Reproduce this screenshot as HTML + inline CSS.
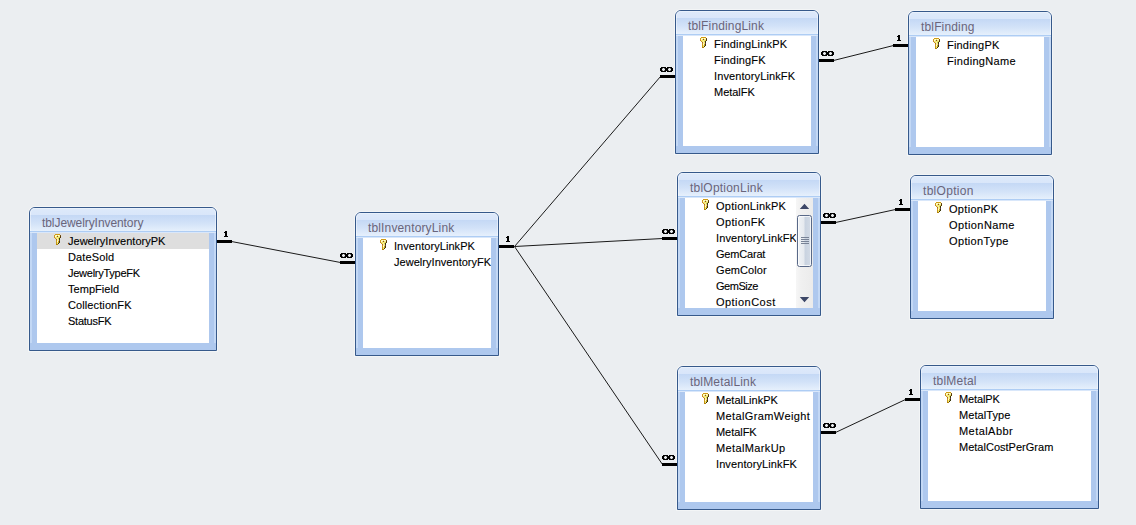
<!DOCTYPE html>
<html><head><meta charset="utf-8"><title>Relationships</title><style>
html,body{margin:0;padding:0}
body{width:1136px;height:525px;overflow:hidden;background:#ebeef1;position:relative;font-family:"Liberation Sans",sans-serif}
.cx{position:absolute;left:0;top:0;z-index:5}
.t{position:absolute;height:144px;box-sizing:border-box;border:1px solid #36598b;border-radius:6px 6px 0 0;
   background:#aec8ee;box-shadow:0 0 0 1px rgba(255,255,255,.4)}
.t:before{content:"";position:absolute;left:0;top:25px;bottom:7px;width:2px;background:#c3d8f5}
.t:after{content:"";position:absolute;right:0;top:25px;bottom:7px;width:2px;background:#c3d8f5}
.h{position:absolute;left:0;right:0;top:0;height:23px;border-radius:5px 5px 0 0;
   background:linear-gradient(#e9f1fc 0,#e9f1fc 1px,#dde9fa 1px,#d9e6fa 7px,#c4d8f5 7px,#d2e2f8 15px,#e6f0fc 23px);
   border-bottom:1px solid #aecdf4;box-shadow:0 1px 0 #d9e7fa,inset 1px 0 0 rgba(255,255,255,.45),inset -1px 0 0 rgba(255,255,255,.45);
   color:#6a657b;font-size:12px;line-height:14px;white-space:nowrap;overflow:hidden}
.h span{position:absolute;left:12px;top:8px}
.l{position:absolute;left:7px;right:7px;top:25px;height:110px;background:#fff;overflow:hidden;z-index:1}
.r{position:relative;height:16px;white-space:nowrap;font-size:11px;line-height:13px;color:#000}
.r.s{background:#dedede}
.r span{position:absolute;left:31px;top:2px;-webkit-text-stroke:.12px #000}
.k{position:absolute;left:17px;top:1px}
.sb{position:absolute;right:0;top:0;width:17px;height:110px;background:linear-gradient(90deg,#f6f6f6,#f0f0f0 30%,#ebebeb);z-index:2}
.sb svg{position:absolute;left:0;top:0}
.th{position:absolute;left:1px;top:17px;width:15px;height:52px;box-sizing:border-box;border:1px solid #596988;border-radius:2.5px;
    background:linear-gradient(90deg,#f0f3f6 0,#e6eaef 45%,#c9d3e0 55%,#d3dbe6 100%);box-shadow:inset 0 0 0 1px rgba(255,255,255,.7)}
.th i{position:absolute;left:3px;width:8px;height:1px;background:#778296}
</style></head>
<body>
<svg width="0" height="0" style="position:absolute"><defs><g id="key" shape-rendering="crispEdges"><rect x="1" y="0" width="1" height="1" fill="#cf9a14"/><rect x="2" y="0" width="1" height="1" fill="#cf9a14"/><rect x="3" y="0" width="1" height="1" fill="#cf9a14"/><rect x="4" y="0" width="1" height="1" fill="#cf9a14"/><rect x="5" y="0" width="1" height="1" fill="#cf9a14"/><rect x="0" y="1" width="1" height="1" fill="#cf9a14"/><rect x="1" y="1" width="1" height="1" fill="#f8f3a4"/><rect x="2" y="1" width="1" height="1" fill="#fffce0"/><rect x="3" y="1" width="1" height="1" fill="#f1e973"/><rect x="4" y="1" width="1" height="1" fill="#fffce0"/><rect x="5" y="1" width="1" height="1" fill="#f8f3a4"/><rect x="6" y="1" width="1" height="1" fill="#7a5010"/><rect x="0" y="2" width="1" height="1" fill="#cf9a14"/><rect x="1" y="2" width="1" height="1" fill="#fffce0"/><rect x="2" y="2" width="1" height="1" fill="#f1e973"/><rect x="3" y="2" width="1" height="1" fill="#8a4a20"/><rect x="4" y="2" width="1" height="1" fill="#f1e973"/><rect x="5" y="2" width="1" height="1" fill="#f8f3a4"/><rect x="6" y="2" width="1" height="1" fill="#55380a"/><rect x="0" y="3" width="1" height="1" fill="#c87838"/><rect x="1" y="3" width="1" height="1" fill="#f1e973"/><rect x="2" y="3" width="1" height="1" fill="#f1e973"/><rect x="3" y="3" width="1" height="1" fill="#f1e973"/><rect x="4" y="3" width="1" height="1" fill="#f1e973"/><rect x="5" y="3" width="1" height="1" fill="#d6c94e"/><rect x="6" y="3" width="1" height="1" fill="#55380a"/><rect x="1" y="4" width="1" height="1" fill="#cf9a14"/><rect x="2" y="4" width="1" height="1" fill="#f1e973"/><rect x="3" y="4" width="1" height="1" fill="#f8f3a4"/><rect x="4" y="4" width="1" height="1" fill="#d6c94e"/><rect x="5" y="4" width="1" height="1" fill="#3a380a"/><rect x="2" y="5" width="1" height="1" fill="#b05a30"/><rect x="3" y="5" width="1" height="1" fill="#f8f3a4"/><rect x="4" y="5" width="1" height="1" fill="#f1e973"/><rect x="5" y="5" width="1" height="1" fill="#3a380a"/><rect x="2" y="6" width="1" height="1" fill="#c59416"/><rect x="3" y="6" width="1" height="1" fill="#f8f3a4"/><rect x="4" y="6" width="1" height="1" fill="#f1e973"/><rect x="5" y="6" width="1" height="1" fill="#6a3050"/><rect x="2" y="7" width="1" height="1" fill="#cf9a14"/><rect x="3" y="7" width="1" height="1" fill="#fffce0"/><rect x="4" y="7" width="1" height="1" fill="#cfa322"/><rect x="5" y="7" width="1" height="1" fill="#3a380a"/><rect x="2" y="8" width="1" height="1" fill="#c59416"/><rect x="3" y="8" width="1" height="1" fill="#f1e973"/><rect x="4" y="8" width="1" height="1" fill="#cfa322"/><rect x="5" y="8" width="1" height="1" fill="#3a380a"/><rect x="2" y="9" width="1" height="1" fill="#c59416"/><rect x="3" y="9" width="1" height="1" fill="#f1e973"/><rect x="4" y="9" width="1" height="1" fill="#3a380a"/><rect x="2" y="10" width="1" height="1" fill="#b08010"/><rect x="3" y="10" width="1" height="1" fill="#b08010"/></g></defs></svg>
<svg class="cx" width="1136" height="525" viewBox="0 0 1136 525"><g stroke="#1a1a1a" stroke-width="1" fill="none" stroke-linecap="butt"><line x1="231.5" y1="241.5" x2="340.5" y2="262.5"/><line x1="514.5" y1="246.5" x2="660.5" y2="76.5"/><line x1="514.5" y1="246.5" x2="662.5" y2="238.5"/><line x1="514.5" y1="246.5" x2="662.5" y2="464.5"/><line x1="833.5" y1="60.5" x2="893.5" y2="45.5"/><line x1="835.5" y1="222.5" x2="895.5" y2="209.5"/><line x1="835.5" y1="432.5" x2="905.5" y2="399.5"/></g><g fill="#000" shape-rendering="crispEdges"><rect x="217" y="240" width="15" height="3"/><rect x="225" y="231" width="2" height="1"/><rect x="224" y="232" width="3" height="1"/><rect x="225" y="233" width="2" height="1"/><rect x="225" y="234" width="2" height="1"/><rect x="225" y="235" width="2" height="1"/><rect x="224" y="236" width="4" height="1"/><rect x="340" y="261" width="15" height="3"/><rect x="341" y="253" width="5" height="1"/><rect x="347" y="253" width="5" height="1"/><rect x="340" y="254" width="2" height="1"/><rect x="342" y="254" width="1" height="1" fill-opacity=".55"/><rect x="344" y="254" width="1" height="1" fill-opacity=".55"/><rect x="345" y="254" width="3" height="1"/><rect x="348" y="254" width="1" height="1" fill-opacity=".55"/><rect x="350" y="254" width="1" height="1" fill-opacity=".55"/><rect x="351" y="254" width="2" height="1"/><rect x="340" y="255" width="2" height="1"/><rect x="345" y="255" width="3" height="1"/><rect x="351" y="255" width="2" height="1"/><rect x="340" y="256" width="2" height="1"/><rect x="342" y="256" width="1" height="1" fill-opacity=".55"/><rect x="344" y="256" width="1" height="1" fill-opacity=".55"/><rect x="345" y="256" width="3" height="1"/><rect x="348" y="256" width="1" height="1" fill-opacity=".55"/><rect x="350" y="256" width="1" height="1" fill-opacity=".55"/><rect x="351" y="256" width="2" height="1"/><rect x="341" y="257" width="5" height="1"/><rect x="347" y="257" width="5" height="1"/><rect x="499" y="245" width="15" height="3"/><rect x="507" y="236" width="2" height="1"/><rect x="506" y="237" width="3" height="1"/><rect x="507" y="238" width="2" height="1"/><rect x="507" y="239" width="2" height="1"/><rect x="507" y="240" width="2" height="1"/><rect x="506" y="241" width="4" height="1"/><rect x="660" y="75" width="15" height="3"/><rect x="661" y="67" width="5" height="1"/><rect x="667" y="67" width="5" height="1"/><rect x="660" y="68" width="2" height="1"/><rect x="662" y="68" width="1" height="1" fill-opacity=".55"/><rect x="664" y="68" width="1" height="1" fill-opacity=".55"/><rect x="665" y="68" width="3" height="1"/><rect x="668" y="68" width="1" height="1" fill-opacity=".55"/><rect x="670" y="68" width="1" height="1" fill-opacity=".55"/><rect x="671" y="68" width="2" height="1"/><rect x="660" y="69" width="2" height="1"/><rect x="665" y="69" width="3" height="1"/><rect x="671" y="69" width="2" height="1"/><rect x="660" y="70" width="2" height="1"/><rect x="662" y="70" width="1" height="1" fill-opacity=".55"/><rect x="664" y="70" width="1" height="1" fill-opacity=".55"/><rect x="665" y="70" width="3" height="1"/><rect x="668" y="70" width="1" height="1" fill-opacity=".55"/><rect x="670" y="70" width="1" height="1" fill-opacity=".55"/><rect x="671" y="70" width="2" height="1"/><rect x="661" y="71" width="5" height="1"/><rect x="667" y="71" width="5" height="1"/><rect x="662" y="237" width="15" height="3"/><rect x="663" y="229" width="5" height="1"/><rect x="669" y="229" width="5" height="1"/><rect x="662" y="230" width="2" height="1"/><rect x="664" y="230" width="1" height="1" fill-opacity=".55"/><rect x="666" y="230" width="1" height="1" fill-opacity=".55"/><rect x="667" y="230" width="3" height="1"/><rect x="670" y="230" width="1" height="1" fill-opacity=".55"/><rect x="672" y="230" width="1" height="1" fill-opacity=".55"/><rect x="673" y="230" width="2" height="1"/><rect x="662" y="231" width="2" height="1"/><rect x="667" y="231" width="3" height="1"/><rect x="673" y="231" width="2" height="1"/><rect x="662" y="232" width="2" height="1"/><rect x="664" y="232" width="1" height="1" fill-opacity=".55"/><rect x="666" y="232" width="1" height="1" fill-opacity=".55"/><rect x="667" y="232" width="3" height="1"/><rect x="670" y="232" width="1" height="1" fill-opacity=".55"/><rect x="672" y="232" width="1" height="1" fill-opacity=".55"/><rect x="673" y="232" width="2" height="1"/><rect x="663" y="233" width="5" height="1"/><rect x="669" y="233" width="5" height="1"/><rect x="662" y="463" width="15" height="3"/><rect x="663" y="455" width="5" height="1"/><rect x="669" y="455" width="5" height="1"/><rect x="662" y="456" width="2" height="1"/><rect x="664" y="456" width="1" height="1" fill-opacity=".55"/><rect x="666" y="456" width="1" height="1" fill-opacity=".55"/><rect x="667" y="456" width="3" height="1"/><rect x="670" y="456" width="1" height="1" fill-opacity=".55"/><rect x="672" y="456" width="1" height="1" fill-opacity=".55"/><rect x="673" y="456" width="2" height="1"/><rect x="662" y="457" width="2" height="1"/><rect x="667" y="457" width="3" height="1"/><rect x="673" y="457" width="2" height="1"/><rect x="662" y="458" width="2" height="1"/><rect x="664" y="458" width="1" height="1" fill-opacity=".55"/><rect x="666" y="458" width="1" height="1" fill-opacity=".55"/><rect x="667" y="458" width="3" height="1"/><rect x="670" y="458" width="1" height="1" fill-opacity=".55"/><rect x="672" y="458" width="1" height="1" fill-opacity=".55"/><rect x="673" y="458" width="2" height="1"/><rect x="663" y="459" width="5" height="1"/><rect x="669" y="459" width="5" height="1"/><rect x="819" y="59" width="15" height="3"/><rect x="822" y="51" width="5" height="1"/><rect x="828" y="51" width="5" height="1"/><rect x="821" y="52" width="2" height="1"/><rect x="823" y="52" width="1" height="1" fill-opacity=".55"/><rect x="825" y="52" width="1" height="1" fill-opacity=".55"/><rect x="826" y="52" width="3" height="1"/><rect x="829" y="52" width="1" height="1" fill-opacity=".55"/><rect x="831" y="52" width="1" height="1" fill-opacity=".55"/><rect x="832" y="52" width="2" height="1"/><rect x="821" y="53" width="2" height="1"/><rect x="826" y="53" width="3" height="1"/><rect x="832" y="53" width="2" height="1"/><rect x="821" y="54" width="2" height="1"/><rect x="823" y="54" width="1" height="1" fill-opacity=".55"/><rect x="825" y="54" width="1" height="1" fill-opacity=".55"/><rect x="826" y="54" width="3" height="1"/><rect x="829" y="54" width="1" height="1" fill-opacity=".55"/><rect x="831" y="54" width="1" height="1" fill-opacity=".55"/><rect x="832" y="54" width="2" height="1"/><rect x="822" y="55" width="5" height="1"/><rect x="828" y="55" width="5" height="1"/><rect x="893" y="44" width="15" height="3"/><rect x="898" y="35" width="2" height="1"/><rect x="897" y="36" width="3" height="1"/><rect x="898" y="37" width="2" height="1"/><rect x="898" y="38" width="2" height="1"/><rect x="898" y="39" width="2" height="1"/><rect x="897" y="40" width="4" height="1"/><rect x="821" y="221" width="15" height="3"/><rect x="824" y="213" width="5" height="1"/><rect x="830" y="213" width="5" height="1"/><rect x="823" y="214" width="2" height="1"/><rect x="825" y="214" width="1" height="1" fill-opacity=".55"/><rect x="827" y="214" width="1" height="1" fill-opacity=".55"/><rect x="828" y="214" width="3" height="1"/><rect x="831" y="214" width="1" height="1" fill-opacity=".55"/><rect x="833" y="214" width="1" height="1" fill-opacity=".55"/><rect x="834" y="214" width="2" height="1"/><rect x="823" y="215" width="2" height="1"/><rect x="828" y="215" width="3" height="1"/><rect x="834" y="215" width="2" height="1"/><rect x="823" y="216" width="2" height="1"/><rect x="825" y="216" width="1" height="1" fill-opacity=".55"/><rect x="827" y="216" width="1" height="1" fill-opacity=".55"/><rect x="828" y="216" width="3" height="1"/><rect x="831" y="216" width="1" height="1" fill-opacity=".55"/><rect x="833" y="216" width="1" height="1" fill-opacity=".55"/><rect x="834" y="216" width="2" height="1"/><rect x="824" y="217" width="5" height="1"/><rect x="830" y="217" width="5" height="1"/><rect x="895" y="208" width="15" height="3"/><rect x="900" y="199" width="2" height="1"/><rect x="899" y="200" width="3" height="1"/><rect x="900" y="201" width="2" height="1"/><rect x="900" y="202" width="2" height="1"/><rect x="900" y="203" width="2" height="1"/><rect x="899" y="204" width="4" height="1"/><rect x="821" y="431" width="15" height="3"/><rect x="824" y="423" width="5" height="1"/><rect x="830" y="423" width="5" height="1"/><rect x="823" y="424" width="2" height="1"/><rect x="825" y="424" width="1" height="1" fill-opacity=".55"/><rect x="827" y="424" width="1" height="1" fill-opacity=".55"/><rect x="828" y="424" width="3" height="1"/><rect x="831" y="424" width="1" height="1" fill-opacity=".55"/><rect x="833" y="424" width="1" height="1" fill-opacity=".55"/><rect x="834" y="424" width="2" height="1"/><rect x="823" y="425" width="2" height="1"/><rect x="828" y="425" width="3" height="1"/><rect x="834" y="425" width="2" height="1"/><rect x="823" y="426" width="2" height="1"/><rect x="825" y="426" width="1" height="1" fill-opacity=".55"/><rect x="827" y="426" width="1" height="1" fill-opacity=".55"/><rect x="828" y="426" width="3" height="1"/><rect x="831" y="426" width="1" height="1" fill-opacity=".55"/><rect x="833" y="426" width="1" height="1" fill-opacity=".55"/><rect x="834" y="426" width="2" height="1"/><rect x="824" y="427" width="5" height="1"/><rect x="830" y="427" width="5" height="1"/><rect x="905" y="398" width="15" height="3"/><rect x="910" y="389" width="2" height="1"/><rect x="909" y="390" width="3" height="1"/><rect x="910" y="391" width="2" height="1"/><rect x="910" y="392" width="2" height="1"/><rect x="910" y="393" width="2" height="1"/><rect x="909" y="394" width="4" height="1"/></g></svg>
<div class="t" style="left:29px;top:207px;width:188px"><div class="h"><span style="letter-spacing:-0.073px">tblJewelryInventory</span></div><div class="l"><div class="r s"><svg class="k" width="7" height="11"><use href="#key"/></svg><span style="letter-spacing:0.011px">JewelryInventoryPK</span></div><div class="r"><span style="letter-spacing:0.133px">DateSold</span></div><div class="r"><span style="letter-spacing:-0.259px">JewelryTypeFK</span></div><div class="r"><span style="letter-spacing:0.044px">TempField</span></div><div class="r"><span style="letter-spacing:0.104px">CollectionFK</span></div><div class="r"><span style="letter-spacing:-0.25px">StatusFK</span></div></div></div>
<div class="t" style="left:355px;top:212px;width:144px"><div class="h"><span style="letter-spacing:0.144px">tblInventoryLink</span></div><div class="l"><div class="r"><svg class="k" width="7" height="11"><use href="#key"/></svg><span style="letter-spacing:0.056px">InventoryLinkPK</span></div><div class="r"><span style="letter-spacing:0.036px">JewelryInventoryFK</span></div></div></div>
<div class="t" style="left:675px;top:10px;width:144px"><div class="h"><span style="letter-spacing:0.143px">tblFindingLink</span></div><div class="l"><div class="r"><svg class="k" width="7" height="11"><use href="#key"/></svg><span style="letter-spacing:0.172px">FindingLinkPK</span></div><div class="r"><span style="letter-spacing:0.182px">FindingFK</span></div><div class="r"><span style="letter-spacing:0.108px">InventoryLinkFK</span></div><div class="r"><span style="letter-spacing:-0.028px">MetalFK</span></div></div></div>
<div class="t" style="left:908px;top:11px;width:144px"><div class="h"><span style="letter-spacing:0.152px">tblFinding</span></div><div class="l"><div class="r"><svg class="k" width="7" height="11"><use href="#key"/></svg><span style="letter-spacing:0.192px">FindingPK</span></div><div class="r"><span style="letter-spacing:0.318px">FindingName</span></div></div></div>
<div class="t" style="left:677px;top:172px;width:144px"><div class="h"><span style="letter-spacing:0.221px">tblOptionLink</span></div><div class="l"><div class="r"><svg class="k" width="7" height="11"><use href="#key"/></svg><span style="letter-spacing:0.239px">OptionLinkPK</span></div><div class="r"><span style="letter-spacing:0.376px">OptionFK</span></div><div class="r"><span style="letter-spacing:0.101px">InventoryLinkFK</span></div><div class="r"><span style="letter-spacing:-0.193px">GemCarat</span></div><div class="r"><span style="letter-spacing:0.082px">GemColor</span></div><div class="r"><span style="letter-spacing:-0.475px">GemSize</span></div><div class="r"><span style="letter-spacing:0.463px">OptionCost</span></div><div class="sb"><svg width="17" height="110"><path d="M3.8 11 L13.2 11 L8.5 5.7 Z M3.8 98.9 L13.2 98.9 L8.5 104.2 Z" fill="#3d4767"/></svg><div class="th"><i style="top:21px"></i><i style="top:23px"></i><i style="top:25px"></i><i style="top:27px"></i></div></div></div></div>
<div class="t" style="left:910px;top:175px;width:144px"><div class="h"><span style="letter-spacing:0.296px">tblOption</span></div><div class="l"><div class="r"><svg class="k" width="7" height="11"><use href="#key"/></svg><span style="letter-spacing:0.301px">OptionPK</span></div><div class="r"><span style="letter-spacing:0.415px">OptionName</span></div><div class="r"><span style="letter-spacing:0.359px">OptionType</span></div></div></div>
<div class="t" style="left:677px;top:366px;width:144px"><div class="h"><span style="letter-spacing:0.17px">tblMetalLink</span></div><div class="l"><div class="r"><svg class="k" width="7" height="11"><use href="#key"/></svg><span style="letter-spacing:0.013px">MetalLinkPK</span></div><div class="r"><span style="letter-spacing:0.383px">MetalGramWeight</span></div><div class="r"><span style="letter-spacing:-0.045px">MetalFK</span></div><div class="r"><span style="letter-spacing:0.379px">MetalMarkUp</span></div><div class="r"><span style="letter-spacing:0.094px">InventoryLinkFK</span></div></div></div>
<div class="t" style="left:920px;top:365px;width:179px"><div class="h"><span style="letter-spacing:0.21px">tblMetal</span></div><div class="l"><div class="r"><svg class="k" width="7" height="11"><use href="#key"/></svg><span style="letter-spacing:-0.13px">MetalPK</span></div><div class="r"><span style="letter-spacing:0.081px">MetalType</span></div><div class="r"><span style="letter-spacing:0.445px">MetalAbbr</span></div><div class="r"><span style="letter-spacing:0.011px">MetalCostPerGram</span></div></div></div>
</body></html>
